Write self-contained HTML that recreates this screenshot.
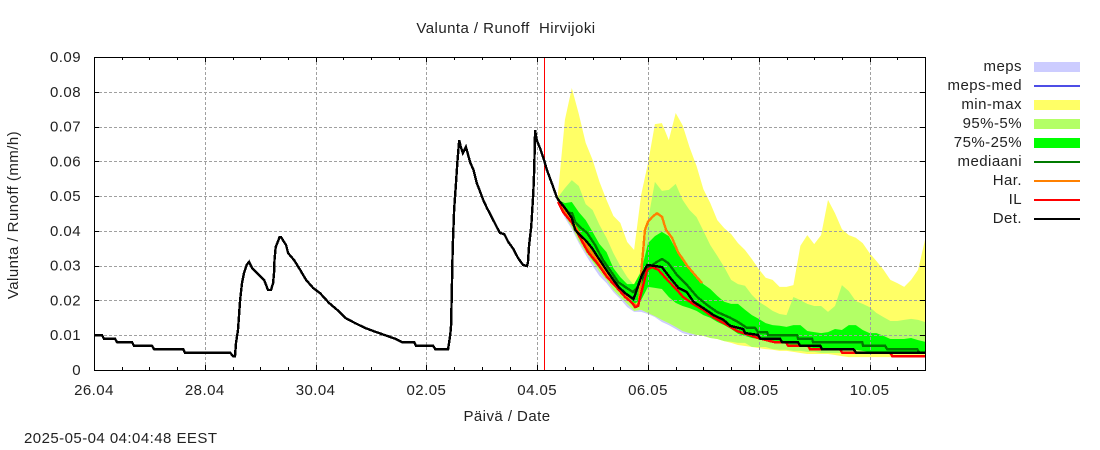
<!DOCTYPE html>
<html lang="fi">
<head>
<meta charset="utf-8">
<title>Valunta / Runoff Hirvijoki</title>
<style>
html,body{margin:0;padding:0;background:#fff;}
svg{display:block;}
text{font-family:"Liberation Sans",sans-serif;font-size:15px;fill:#222;letter-spacing:.45px;}
</style>
</head>
<body>
<svg id="chart" xmlns="http://www.w3.org/2000/svg" width="1100" height="450" viewBox="0 0 1100 450">
<rect x="0" y="0" width="1100" height="450" fill="#fff"/>
<text x="506" y="33" text-anchor="middle" xml:space="preserve">Valunta / Runoff  Hirvijoki</text>
<text transform="translate(18,215) rotate(-90)" text-anchor="middle">Valunta / Runoff (mm/h)</text>
<text x="507" y="421" text-anchor="middle">Päivä / Date</text>
<text x="24" y="443">2025-05-04 04:04:48 EEST</text>
<g id="plot"></g>
<g shape-rendering="crispEdges">
<g><text x="1022" y="71" text-anchor="end">meps</text><rect x="1034" y="62" width="46" height="10" fill="#ccccff"/></g>
<g><text x="1022" y="90" text-anchor="end">meps-med</text><rect x="1034" y="85" width="46" height="2" fill="#4d4de6"/></g>
<g><text x="1022" y="109" text-anchor="end">min-max</text><rect x="1034" y="100" width="46" height="10" fill="#ffff66"/></g>
<g><text x="1022" y="128" text-anchor="end">95%-5%</text><rect x="1034" y="119" width="46" height="10" fill="#b3ff66"/></g>
<g><text x="1022" y="147" text-anchor="end">75%-25%</text><rect x="1034" y="138" width="46" height="10" fill="#00ff00"/></g>
<g><text x="1022" y="166" text-anchor="end">mediaani</text><rect x="1034" y="161" width="46" height="2" fill="#007a00"/></g>
<g><text x="1022" y="185" text-anchor="end">Har.</text><rect x="1034" y="180" width="46" height="2" fill="#ff8000"/></g>
<g><text x="1022" y="204" text-anchor="end">IL</text><rect x="1034" y="199" width="46" height="2" fill="#ff0000"/></g>
<g><text x="1022" y="223" text-anchor="end">Det.</text><rect x="1034" y="218" width="46" height="2" fill="#000000"/></g>
</g>
</svg>
<script>
// Axis data
const xTickLabels = ['26.04','28.04','30.04','02.05','04.05','06.05','08.05','10.05'];
const xTickHours = [0,48,96,144,192,240,288,336];
const xMinorTickHours = [12,24,36,60,72,84,108,120,132,156,168,180,204,216,228,252,264,276,300,312,324,348];
const yTickValues = [0,0.01,0.02,0.03,0.04,0.05,0.06,0.07,0.08,0.09];
const yTickLabels = ['0','0.01','0.02','0.03','0.04','0.05','0.06','0.07','0.08','0.09'];
const xMaxHours = 360;
const yMaxValue = 0.09;
const nowHour = 195;

// Ensemble bands (hours since 26.04 00:00, mm/h)
const bandHours = [201,204,207,210,213,216,219,222,225,228,231,234,237,240,243,246,249,252,255,258,261,264,267,270,273,276,279,282,285,288,291,294,297,300,303,306,309,312,315,318,321,324,327,330,333,336,339,342,345,348,351,354,357,360];
const minValues = [.0483,.0443,.0411,.0371,.0339,.0311,.0282,.0259,.0230,.0210,.0190,.0170,.0173,.0164,.0155,.0144,.0135,.0124,.0112,.0106,.0101,.0098,.0092,.0089,.0083,.0078,.0072,.0069,.0066,.0063,.0060,.0058,.0055,.0055,.0052,.0049,.0046,.0046,.0046,.0046,.0043,.0040,.0037,.0037,.0037,.0037,.0037,.0037,.0037,.0037,.0037,.0037,.0037,.0037];
const maxValues = [.0509,.0719,.0811,.0736,.0653,.0604,.0541,.0489,.0443,.0423,.0368,.0345,.0503,.0595,.0707,.0710,.0661,.0739,.0704,.0641,.0587,.0520,.0480,.0431,.0408,.0391,.0365,.0345,.0319,.0290,.0265,.0259,.0239,.0239,.0244,.0357,.0388,.0362,.0388,.0489,.0451,.0405,.0388,.0380,.0365,.0336,.0313,.0288,.0259,.0250,.0239,.0259,.0288,.0374];
const p5Values = [.0483,.0443,.0411,.0371,.0339,.0311,.0282,.0259,.0230,.0210,.0190,.0170,.0173,.0164,.0155,.0144,.0135,.0124,.0112,.0106,.0101,.0098,.0092,.0089,.0083,.0081,.0078,.0078,.0066,.0066,.0066,.0060,.0058,.0058,.0055,.0055,.0052,.0052,.0049,.0049,.0049,.0049,.0049,.0049,.0049,.0049,.0049,.0049,.0049,.0049,.0046,.0046,.0046,.0046];
const p95Values = [.0497,.0523,.0546,.0529,.0477,.0460,.0417,.0380,.0336,.0299,.0267,.0244,.0288,.0431,.0541,.0515,.0518,.0535,.0489,.0460,.0440,.0400,.0359,.0328,.0296,.0259,.0247,.0242,.0216,.0196,.0184,.0170,.0161,.0158,.0210,.0201,.0190,.0184,.0184,.0167,.0184,.0244,.0227,.0198,.0190,.0181,.0164,.0152,.0141,.0141,.0144,.0147,.0144,.0138];
const p25Values = [.0483,.0451,.0420,.0380,.0345,.0316,.0293,.0270,.0244,.0224,.0204,.0190,.0201,.0239,.0236,.0233,.0210,.0193,.0184,.0178,.0170,.0158,.0150,.0138,.0129,.0118,.0104,.0098,.0092,.0089,.0083,.0078,.0078,.0075,.0072,.0069,.0066,.0063,.0060,.0060,.0058,.0058,.0058,.0058,.0055,.0052,.0052,.0052,.0049,.0049,.0049,.0046,.0046,.0046];
const p75Values = [.0489,.0480,.0483,.0454,.0431,.0397,.0362,.0339,.0293,.0267,.0247,.0247,.0282,.0365,.0385,.0397,.0385,.0348,.0316,.0290,.0267,.0247,.0233,.0213,.0196,.0190,.0190,.0173,.0158,.0147,.0135,.0129,.0127,.0124,.0129,.0129,.0112,.0109,.0106,.0109,.0118,.0115,.0129,.0129,.0115,.0106,.0106,.0098,.0089,.0089,.0089,.0092,.0086,.0081];
const mepsHours = [201,204,207,210,213,216,219,222,225,228,231,234,237,240,243,246,249,252,255,258,261];
const mepsLowValues = [.0480,.0437,.0405,.0365,.0331,.0299,.0270,.0250,.0224,.0204,.0181,.0167,.0167,.0161,.0152,.0138,.0129,.0118,.0106,.0101,.0098];
const mepsHighValues = [.0489,.0470,.0440,.0400,.0360,.0330,.0300,.0280,.0250,.0230,.0210,.0200,.0230,.0290,.0300,.0290,.0260,.0230,.0200,.0180,.0160];

// Line series
const medianHours = [201.1,204.1,207.1,208.4,210.6,213.6,217.1,220.5,224.4,227,230.1,233.5,235.7,237.9,240,243.9,246.1,248.7,252.6,256.9,261.3,265.6,269.9,275.6,279,282.9,286.4,287.7,291.6,292,304.6,305,311.1,311.5,332.8,333.2,342.7,343.6,356.6,357.5,360];
const medianValues = [.0489,.0454,.0451,.0426,.0411,.0394,.0359,.0316,.0279,.0253,.0239,.0224,.0239,.0267,.0293,.0311,.0319,.0308,.0273,.0244,.021,.0187,.0167,.015,.0138,.0121,.0121,.0109,.0109,.01,.01,.009,.009,.008,.008,.007,.007,.006,.006,.005,.005];
const harHours = [201.1,207.5,212.8,217.9,223.6,229.2,233.1,235.3,236.1,237.4,238.7,240,241.8,243.9,246.1,247.8,250.4,253,257.4,263.4];
const harValues = [.0489,.0423,.0365,.0316,.0267,.0221,.0193,.0184,.0196,.0308,.0403,.0426,.044,.0451,.044,.0403,.038,.0339,.0296,.025];
const ilHours = [201.1,203.2,207.1,210.6,214,217.9,222.3,226.6,230.1,233.1,234.4,235.7,237.4,239.6,241.8,244.4,248.3,252.6,255.2,259.5,263.9,268.2,274.3,275.6,278.6,282.1,287.7,292.9,295,299.8,300.7,309.4,310.2,323.2,324.1,344.9,345.8,360];
const ilValues = [.0483,.0454,.0423,.038,.0339,.0308,.0267,.0236,.021,.0193,.0181,.0184,.023,.0288,.0296,.0288,.0259,.023,.021,.019,.0173,.0152,.0129,.0124,.0112,.0104,.0092,.0083,.008,.008,.007,.007,.006,.006,.005,.005,.004,.004];
const detHours = [0,3.5,4.3,9.1,10,16.5,17.3,25.1,26,38.6,39.4,58.9,60.2,61.1,61.5,62.4,63.3,64.1,65,66.1,67.2,68.5,70.6,73.7,75.4,76.7,77.6,78,78.2,78.7,79.6,80.4,81,83.2,84.1,86.7,89.3,91.9,94.9,97.9,101.8,105.3,108.8,113.1,117.4,121.8,126.1,130.4,133.5,138.7,139.5,146.9,147.8,153.4,154.3,154.7,155.4,156,156.9,157.4,158.2,158.9,159.8,161.1,162.1,162.9,164.4,165.8,167.3,168.6,170.2,172.3,174.5,175.9,177.7,179.5,181.7,183.7,185.9,187.6,188,188.5,189.4,190.3,190.7,191.1,191.8,193.2,194.7,196.2,198.3,200.5,201.2,204,207,208.4,210.6,212.8,215.7,218.5,221.4,224.3,227.2,230.1,233.7,235.1,237.3,239.7,243,246,249.6,253.2,256.8,259.7,264,268.4,272.7,275.6,281.2,282.1,287.7,288.6,297.2,298.1,305,305.9,314.6,315.4,328.9,330.2,360];
const detValues = [.01,.01,.009,.009,.008,.008,.007,.007,.006,.006,.005,.005,.004,.004,.0078,.0115,.0201,.025,.0279,.0302,.0311,.0293,.0279,.0259,.023,.023,.025,.0282,.0316,.0354,.0368,.0382,.0382,.0359,.0336,.0316,.0288,.0259,.0236,.0221,.0193,.0173,.015,.0135,.0121,.011,.01,.009,.008,.008,.007,.007,.006,.006,.01,.0129,.0351,.046,.0546,.0595,.0661,.0641,.0624,.0641,.0618,.0598,.0575,.0538,.0512,.0489,.0466,.044,.0411,.0394,.0391,.0368,.0348,.0322,.0302,.0299,.0311,.0359,.0411,.0509,.0575,.069,.0661,.0638,.061,.0575,.0538,.0497,.0489,.0466,.0437,.0403,.0388,.0374,.0351,.0322,.0293,.0265,.0239,.0221,.0204,.023,.0273,.0302,.0299,.0296,.0265,.0236,.0224,.0196,.0178,.0158,.0144,.0127,.0118,.0106,.0101,.009,.009,.008,.008,.007,.007,.006,.006,.005,.005];

const PLOT_LEFT = 94, PLOT_RIGHT = 925, PLOT_TOP = 57, PLOT_BOTTOM = 370;
function xScale(h){ return PLOT_LEFT + h * (PLOT_RIGHT - PLOT_LEFT) / xMaxHours; }
function yScale(v){ return PLOT_BOTTOM - v * (PLOT_BOTTOM - PLOT_TOP) / yMaxValue; }

const NS = 'http://www.w3.org/2000/svg';
const plot = document.getElementById('plot');
function make(tag, parent){
  const el = document.createElementNS(NS, tag);
  parent.appendChild(el);
  return el;
}
function bandPoints(hours, low, high){
  const pts = [];
  for (let i = 0; i < hours.length; i++) pts.push(xScale(hours[i]).toFixed(1) + ',' + yScale(high[i]).toFixed(1));
  for (let i = hours.length - 1; i >= 0; i--) pts.push(xScale(hours[i]).toFixed(1) + ',' + yScale(low[i]).toFixed(1));
  return pts.join(' ');
}
function linePoints(hours, vals){
  return hours.map(function(h, i){ return xScale(h).toFixed(1) + ',' + yScale(vals[i]).toFixed(1); }).join(' ');
}

// Bands
const mepsBand = make('polygon', plot);


mepsBand.setAttribute('points', bandPoints(mepsHours, mepsLowValues, mepsHighValues));
mepsBand.setAttribute('fill', '#ccccff');

const minMaxBand = make('polygon', plot);


minMaxBand.setAttribute('points', bandPoints(bandHours, minValues, maxValues));
minMaxBand.setAttribute('fill', '#ffff66');

const band955 = make('polygon', plot);


band955.setAttribute('points', bandPoints(bandHours, p5Values, p95Values));
band955.setAttribute('fill', '#b3ff66');

const band7525 = make('polygon', plot);


band7525.setAttribute('points', bandPoints(bandHours, p25Values, p75Values));
band7525.setAttribute('fill', '#00ff00');

// Grid
const grid = make('g', plot);


grid.setAttribute('stroke', '#a0a0a0');
grid.setAttribute('stroke-width', '1');
grid.setAttribute('stroke-dasharray', '3 2');
grid.setAttribute('shape-rendering', 'crispEdges');
xTickHours.forEach(function(h){
  if (h === 0) return;
  const gl = make('line', grid);
  
  
  gl.setAttribute('x1', Math.round(xScale(h)) + 0.5);
  gl.setAttribute('x2', Math.round(xScale(h)) + 0.5);
  gl.setAttribute('y1', PLOT_BOTTOM);
  gl.setAttribute('y2', PLOT_TOP);
});
yTickValues.forEach(function(v){
  if (v === 0 || v === yMaxValue) return;
  const gl = make('line', grid);
  
  
  gl.setAttribute('x1', PLOT_LEFT);
  gl.setAttribute('x2', PLOT_RIGHT);
  gl.setAttribute('y1', Math.round(yScale(v)) + 0.5);
  gl.setAttribute('y2', Math.round(yScale(v)) + 0.5);
});

// Current time marker
const nowLine = make('line', plot);


nowLine.setAttribute('x1', Math.round(xScale(nowHour)) + 0.5);
nowLine.setAttribute('x2', Math.round(xScale(nowHour)) + 0.5);
nowLine.setAttribute('y1', PLOT_TOP);
nowLine.setAttribute('y2', PLOT_BOTTOM);
nowLine.setAttribute('stroke', '#ff0000');
nowLine.setAttribute('stroke-width', '1');
nowLine.setAttribute('shape-rendering', 'crispEdges');

// Lines
const medianLine = make('polyline', plot);


medianLine.setAttribute('points', linePoints(medianHours, medianValues));
medianLine.setAttribute('fill', 'none');
medianLine.setAttribute('stroke', '#007a00');
medianLine.setAttribute('stroke-width', '2.4');
medianLine.setAttribute('shape-rendering', 'crispEdges');

const harLine = make('polyline', plot);


harLine.setAttribute('points', linePoints(harHours, harValues));
harLine.setAttribute('fill', 'none');
harLine.setAttribute('stroke', '#ff8000');
harLine.setAttribute('stroke-width', '2.4');
harLine.setAttribute('shape-rendering', 'crispEdges');

const ilLine = make('polyline', plot);


ilLine.setAttribute('points', linePoints(ilHours, ilValues));
ilLine.setAttribute('fill', 'none');
ilLine.setAttribute('stroke', '#ff0000');
ilLine.setAttribute('stroke-width', '2.4');
ilLine.setAttribute('shape-rendering', 'crispEdges');

const detLine = make('polyline', plot);


detLine.setAttribute('points', linePoints(detHours, detValues));
detLine.setAttribute('fill', 'none');
detLine.setAttribute('stroke', '#000000');
detLine.setAttribute('stroke-width', '2.4');
detLine.setAttribute('shape-rendering', 'crispEdges');

// Axes frame and ticks
const frame = make('rect', plot);


frame.setAttribute('x', PLOT_LEFT + 0.5);
frame.setAttribute('y', PLOT_TOP + 0.5);
frame.setAttribute('width', PLOT_RIGHT - PLOT_LEFT);
frame.setAttribute('height', PLOT_BOTTOM - PLOT_TOP);
frame.setAttribute('fill', 'none');
frame.setAttribute('stroke', '#000');
frame.setAttribute('shape-rendering', 'crispEdges');

const ticks = make('g', plot);


ticks.setAttribute('stroke', '#000');
ticks.setAttribute('shape-rendering', 'crispEdges');

function vTick(h, len){
  const x = Math.round(xScale(h)) + 0.5;
  const a = make('line', ticks);
  
  
  a.setAttribute('x1', x); a.setAttribute('x2', x);
  a.setAttribute('y1', PLOT_BOTTOM); a.setAttribute('y2', PLOT_BOTTOM - len);
  const b = make('line', ticks);
  
  
  b.setAttribute('x1', x); b.setAttribute('x2', x);
  b.setAttribute('y1', PLOT_TOP); b.setAttribute('y2', PLOT_TOP + len);
}
xTickHours.forEach(function(h, i){
  vTick(h, 5);
  const t = make('text', plot);
  
  
  t.setAttribute('x', xScale(h));
  t.setAttribute('y', 395);
  t.setAttribute('text-anchor', 'middle');
  t.textContent = xTickLabels[i];
});
xMinorTickHours.forEach(function(h){ vTick(h, 3); });
yTickValues.forEach(function(v, i){
  const y = Math.round(yScale(v)) + 0.5;
  const a = make('line', ticks);
  
  
  a.setAttribute('x1', PLOT_LEFT); a.setAttribute('x2', PLOT_LEFT + 5);
  a.setAttribute('y1', y); a.setAttribute('y2', y);
  const b = make('line', ticks);
  
  
  b.setAttribute('x1', PLOT_RIGHT); b.setAttribute('x2', PLOT_RIGHT - 5);
  b.setAttribute('y1', y); b.setAttribute('y2', y);
  const t = make('text', plot);
  
  
  t.setAttribute('x', 81);
  t.setAttribute('y', yScale(v) + 5);
  t.setAttribute('text-anchor', 'end');
  t.textContent = yTickLabels[i];
});
</script>
</body>
</html>
